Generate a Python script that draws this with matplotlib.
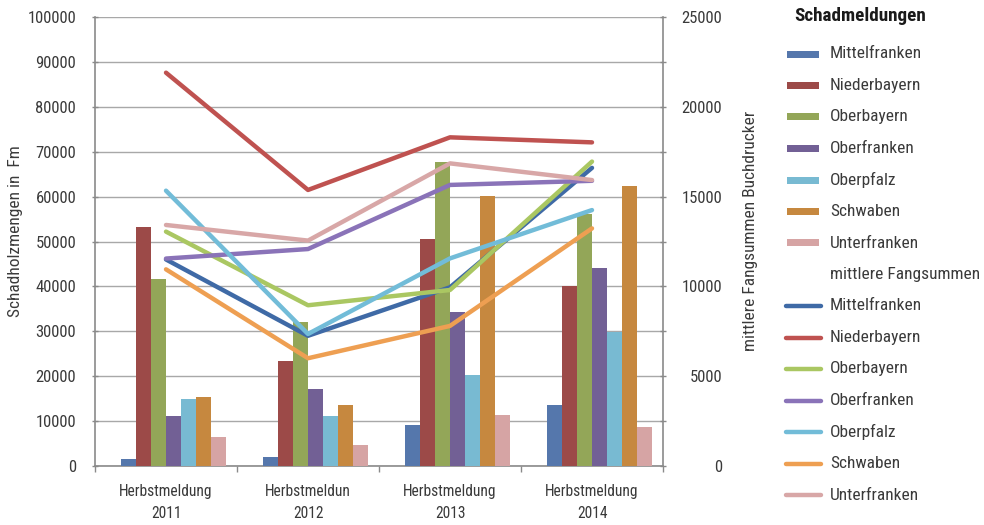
import matplotlib
matplotlib.use("Agg")
import matplotlib.pyplot as plt
from matplotlib import font_manager
from matplotlib.font_manager import FontProperties
from matplotlib.textpath import TextPath
from matplotlib.patches import Rectangle
from matplotlib.lines import Line2D
import numpy as np

# ---- data -------------------------------------------------------------
categories = ["Herbstmeldung\n2011", "Herbstmeldun\n2012",
              "Herbstmeldung\n2013", "Herbstmeldung\n2014"]
regions = ["Mittelfranken", "Niederbayern", "Oberbayern", "Oberfranken",
           "Oberpfalz", "Schwaben", "Unterfranken"]

# Schadholzmengen (Fm), bars on left axis
schad_mittelfranken = [1500, 2000, 9100, 13600]
schad_niederbayern = [53300, 23450, 50500, 40200]
schad_oberbayern = [41700, 32000, 67700, 56200]
schad_oberfranken = [11100, 17100, 34300, 44000]
schad_oberpfalz = [14850, 11100, 20300, 29900]
schad_schwaben = [15400, 13600, 60100, 62300]
schad_unterfranken = [6400, 4700, 11300, 8750]

# mittlere Fangsummen Buchdrucker, lines on right axis
fang_mittelfranken = [11500, 7250, 9950, 16600]
fang_niederbayern = [21900, 15370, 18300, 18020]
fang_oberbayern = [13050, 8950, 9800, 16950]
fang_oberfranken = [11550, 12080, 15650, 15880]
fang_oberpfalz = [15330, 7350, 11560, 14250]
fang_schwaben = [10950, 6000, 7800, 13230]
fang_unterfranken = [13420, 12550, 16850, 15920]

left_ticks = list(range(0, 100001, 10000))
right_ticks = list(range(0, 25001, 5000))

schad = [schad_mittelfranken, schad_niederbayern, schad_oberbayern,
         schad_oberfranken, schad_oberpfalz, schad_schwaben,
         schad_unterfranken]
fang = [fang_mittelfranken, fang_niederbayern, fang_oberbayern,
        fang_oberfranken, fang_oberpfalz, fang_schwaben, fang_unterfranken]

bar_colors = ["#5577AC", "#9C4A48", "#93A658", "#726095",
              "#78BAD2", "#C6883F", "#D6A4A4"]
line_colors = ["#3F6AA6", "#BF5250", "#AAC762", "#8A73B8",
               "#72BCD8", "#EE9F52", "#D8A7A7"]

# ---- fonts: pick the installed sans whose width suits a narrow face ----
FS = 12.5        # legend and axis titles
FS_YTICK = 12.0  # value labels on both y axes
FS_XTICK = 11.2  # category labels
BASES = ("DejaVu Sans", "Liberation Sans", "Noto Sans", "Roboto",
         "Open Sans", "Lato", "Inter")
WIDTH_WORDS = {"Condensed", "Narrow", "SemiCondensed", "ExtraCondensed",
               "Semi", "Extra", "Cond"}


def acceptable(entry):
    for b in BASES:
        if entry.name == b or entry.name.startswith(b + " "):
            rest = entry.name[len(b):].split()
            return all(w in WIDTH_WORDS for w in rest)
    return False


def text_width(path, s, size_pt):
    tp = TextPath((0, 0), s, size=size_pt * 100 / 72,
                  prop=FontProperties(fname=path))
    return tp.get_extents().width


target = 92.0  # width of "Mittelfranken"
best, best_err = None, None
for e in font_manager.fontManager.ttflist:
    if not acceptable(e) or e.style != "normal":
        continue
    if e.weight not in (400, "normal", "regular", "book"):
        continue
    try:
        wdt = text_width(e.fname, "Mittelfranken", FS)
    except Exception:
        continue
    err = abs(wdt - target)
    if best is None or err < best_err:
        best, best_err = e, err

PATH_R = best.fname
PATH_B = None
for e in font_manager.fontManager.ttflist:
    if (e.name == best.name and e.style == "normal" and e.stretch == best.stretch
            and e.weight in (700, "bold")):
        PATH_B = e.fname
        break
if PATH_B is None:
    PATH_B = PATH_R


def fp(size, bold=False):
    return FontProperties(fname=PATH_B if bold else PATH_R, size=size)


TXT = "#3A3A3A"
AXC = "#8A8A8A"

# ---- figure -----------------------------------------------------------
W, H = 984, 525
fig = plt.figure(figsize=(W / 100, H / 100), dpi=100)
L, R, T, B = 95, 663, 17, 466
ax = fig.add_axes([L / W, 1 - B / H, (R - L) / W, (B - T) / H])
ax2 = ax.twinx()

x = np.arange(len(categories))
slot = 0.105
n_slots = 8  # first slot is the empty "mittlere Fangsummen" entry
for j, (vals, col) in enumerate(zip(schad, bar_colors)):
    off = -slot * n_slots / 2 + slot * (j + 1 + 0.5)
    ax.bar(x + off, vals, width=slot, color=col, linewidth=0, zorder=3)

for vals, col in zip(fang, line_colors):
    ax2.plot(x, vals, color=col, lw=3.2, solid_capstyle="round",
             solid_joinstyle="round", zorder=4)

ax.set_xlim(-0.5, len(categories) - 0.5)
ax.set_ylim(0, 100000)
ax2.set_ylim(0, 25000)

ax.set_yticks(left_ticks)
ax.set_yticklabels([str(v) for v in left_ticks], color=TXT)
ax2.set_yticks(right_ticks)
ax2.set_yticks([v + 2500 for v in right_ticks[:-1]], minor=True)
ax2.set_yticklabels([str(v) for v in right_ticks], color=TXT)

ax.grid(axis="y", color="#A8A8A8", lw=1.0, zorder=0)
ax.set_axisbelow(True)

# category boundaries carry the ticks, labels sit at the centers
ax.set_xticks(np.arange(-0.5, len(categories), 1.0))
ax.set_xticklabels([])
ax.set_xticks(x, minor=True)
ax.set_xticklabels(categories, minor=True, color=TXT, linespacing=1.55)
ax.tick_params(axis="x", which="major", direction="out", length=4.5,
               color=AXC, width=1)
ax.tick_params(axis="x", which="minor", length=0, pad=13)

ax.tick_params(axis="y", direction="inout", length=5, color=AXC, width=1,
               pad=11)
ax2.tick_params(axis="y", which="major", direction="inout", length=5,
                color=AXC, width=1, pad=40)
ax2.tick_params(axis="y", which="minor", direction="inout", length=5,
                color=AXC, width=1)
for lab in ax.get_yticklabels() + ax2.get_yticklabels():
    lab.set_ha("right")
    lab.set_fontproperties(fp(FS_YTICK))
for lab in ax.get_xticklabels(minor=True):
    lab.set_fontproperties(fp(FS_XTICK))

for a in (ax, ax2):
    a.spines["top"].set_visible(False)
    for s in ("left", "right", "bottom"):
        a.spines[s].set_color(AXC)
        a.spines[s].set_linewidth(1.2)
ax.spines["right"].set_visible(False)
ax2.spines["left"].set_visible(False)
ax2.spines["bottom"].set_visible(False)

ax.set_ylabel("Schadholzmengen in  Fm", fontproperties=fp(FS), color=TXT)
ax.yaxis.set_label_coords((23 - L) / (R - L), (B - 231) / (B - T))
ax2.set_ylabel("mittlere Fangsummen Buchdrucker", fontproperties=fp(FS),
               color=TXT)
ax2.yaxis.set_label_coords((743 - L) / (R - L), (B - 231) / (B - T))

# ---- legend -----------------------------------------------------------
def fx(px):
    return px / W

def fy(py):
    return 1 - py / H

fig.text(fx(794), fy(16), "Schadmeldungen", fontproperties=fp(13.8, True),
         color="#1A1A1A", ha="left", va="center")
row0, step = 54, 31.5
text_x = 830
for i, (name, col) in enumerate(zip(regions, bar_colors)):
    yc = row0 + step * i
    fig.add_artist(Rectangle((fx(787), fy(yc + 3.5)), fx(32), 7 / H,
                             transform=fig.transFigure, color=col, lw=0))
    fig.text(fx(text_x), fy(yc), name, fontproperties=fp(FS), color=TXT,
             ha="left", va="center")
yc = row0 + step * 7
fig.text(fx(text_x), fy(yc), "mittlere Fangsummen", fontproperties=fp(FS),
         color=TXT, ha="left", va="center")
for i, (name, col) in enumerate(zip(regions, line_colors)):
    yc = row0 + step * (8 + i)
    fig.add_artist(Line2D([fx(786), fx(821)], [fy(yc), fy(yc)],
                          transform=fig.transFigure, color=col, lw=3.2,
                          solid_capstyle="round"))
    fig.text(fx(text_x), fy(yc), name, fontproperties=fp(FS), color=TXT,
             ha="left", va="center")

fig.savefig("out.png", dpi=100, facecolor="white")
